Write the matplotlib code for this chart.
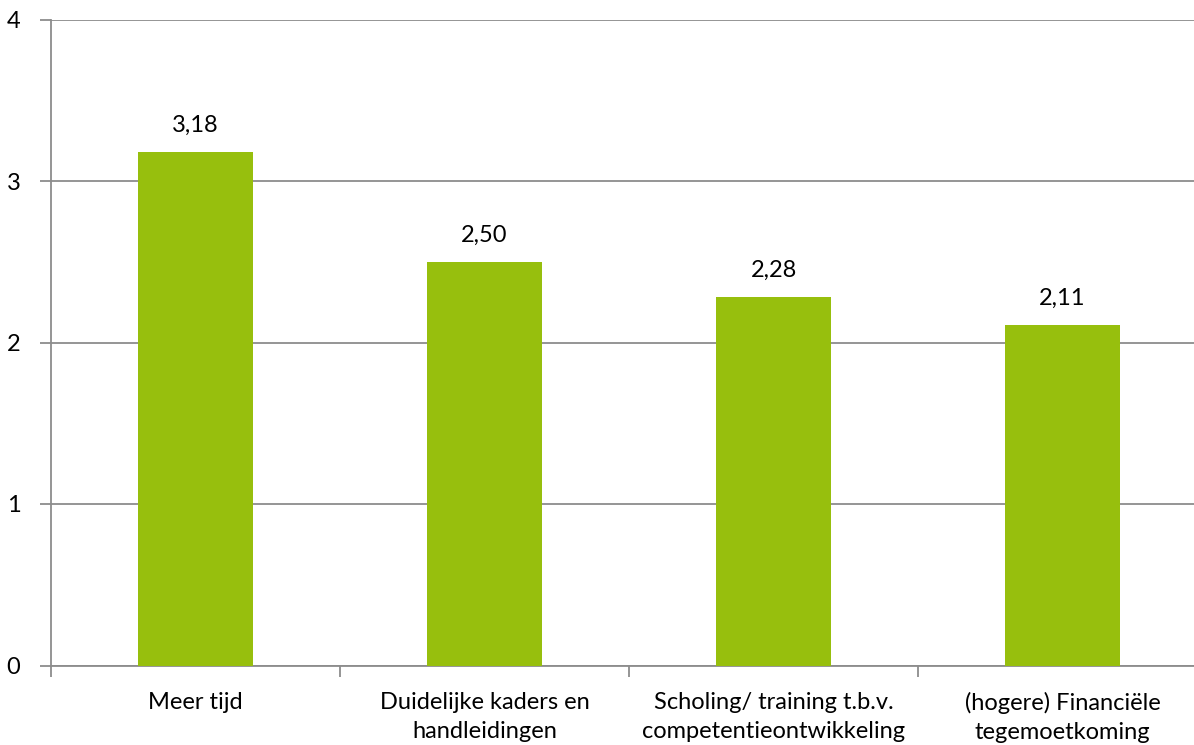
import matplotlib
matplotlib.use("Agg")
from matplotlib import pyplot as plt
import numpy as np

categories = [
    "Meer tijd",
    "Duidelijke kaders en\nhandleidingen",
    "Scholing/ training t.b.v.\ncompetentieontwikkeling",
    "(hogere) Financiële\ntegemoetkoming",
]
values = [3.18, 2.50, 2.28, 2.11]
yticks = [0, 1, 2, 3, 4]

plt.rcParams["font.family"] = ["Lato", "DejaVu Sans"]

fig = plt.figure(figsize=(11.94, 7.45), dpi=100)
# plot area runs slightly past the right edge of the picture, as in the original
ax = fig.add_axes([51 / 1194, 1 - 665.5 / 745, (1207 - 51) / 1194, (665.5 - 19.5) / 745])

x = np.arange(len(categories))
bars = ax.bar(x, values, width=0.40, color="#97BF0D", zorder=3)
for xi, v in zip(x, values):
    ax.text(xi, v + 0.1, f"{v:.2f}".replace(".", ","), ha="center", va="bottom",
            fontsize=17, color="#000000")

ax.set_xlim(-0.5, len(categories) - 0.5)
ax.set_ylim(0, 4)
ax.set_yticks(yticks)
ax.set_yticklabels([str(t) for t in yticks], fontsize=17)
ax.yaxis.grid(True, color="#8C8C8C", linewidth=1.3, zorder=0)
ax.tick_params(axis="y", length=8, color="#8C8C8C", width=1.3, pad=14)

ax.set_xticks(x)
ax.set_xticklabels(categories, fontsize=17, linespacing=1.45)
ax.set_xticks(np.arange(-0.5, len(categories)), minor=True)
ax.tick_params(axis="x", which="major", length=0, pad=19)
ax.tick_params(axis="x", which="minor", length=8, color="#8C8C8C", width=1.3)

for side in ["top", "right"]:
    ax.spines[side].set_visible(False)
for side in ["left", "bottom"]:
    ax.spines[side].set_color("#8C8C8C")
    ax.spines[side].set_linewidth(1.3)

fig.savefig("out.png", dpi=100)
